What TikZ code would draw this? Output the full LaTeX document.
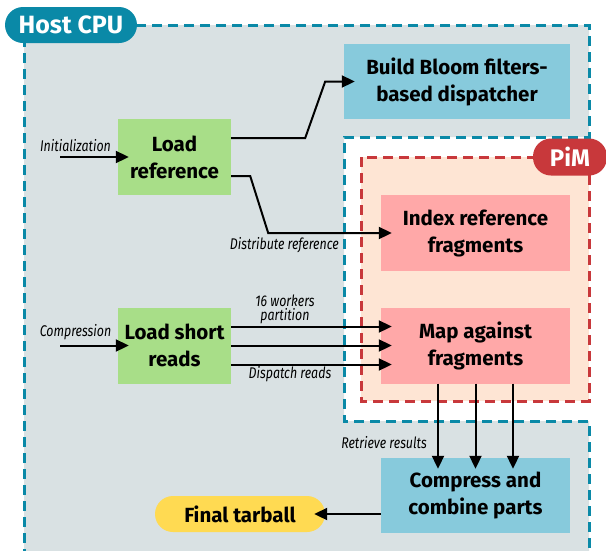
\documentclass[tikz,border=0pt]{standalone}
\usepackage{fontspec}
\setmainfont{Fira Sans}
\newfontfamily\labfont{Fira Sans}[FakeStretch=0.8]
\usetikzlibrary{arrows.meta,calc}
\definecolor{hostgray}{HTML}{D9E1E3}
\definecolor{teal}{HTML}{0A89A7}
\definecolor{pimred}{HTML}{C8383B}
\definecolor{peach}{HTML}{FEE5D4}
\definecolor{boxgreen}{HTML}{A8DE88}
\definecolor{boxblue}{HTML}{87CADC}
\definecolor{boxpink}{HTML}{FFA8A8}
\definecolor{boxyellow}{HTML}{FFDA52}
\tikzset{
  stepbox/.style={inner sep=0pt, align=center, font=\fontsize{20.5}{27}\selectfont\bfseries},
  arr/.style={line width=2pt, shorten >=-11pt, -{Triangle[length=13pt,width=12pt]}},
  lab/.style={font=\labfont\itshape\fontsize{15.5}{14}\selectfont, inner sep=0pt, align=center},
  tag/.style={rounded corners=18pt, text=white, font=\bfseries, inner sep=0pt},
  tealdash/.style={draw=teal, line width=3pt, dash pattern=on 10pt off 6pt},
  reddash/.style={draw=pimred, line width=3pt, dash pattern=on 10pt off 6pt}
}
\begin{document}
\begin{tikzpicture}[x=1pt,y=-1pt]
\clip (0,0) rectangle (606,550);
\fill[white] (0,0) rectangle (606,550);
% host region
\path[fill=hostgray, tealdash] (24,25) -- (589,25) -- (589,137) -- (344,137) -- (344,421) -- (589,421) -- (589,570) -- (24,570) -- cycle;
\fill[white] (345.5,138.5) rectangle (587.5,419.5);
% PiM region
\path[fill=peach, reddash] (361,157) rectangle (589,401);
% tags
\node[tag, fill=teal, minimum width=132pt, minimum height=36pt, font=\fontsize{25}{25}\selectfont\bfseries] (host) at (71,25) {Host CPU};
\node[tag, fill=pimred, minimum width=74pt, minimum height=37pt, font=\fontsize{24}{24}\selectfont\bfseries] (pim) at (570,157) {PiM};
% boxes
\node[stepbox, fill=boxgreen, minimum width=113pt, minimum height=76pt] (lr) at (174.5,157) {Load\\reference};
\node[stepbox, fill=boxblue, minimum width=226pt, minimum height=75pt] (bb) at (457,81.5) {Build Bloom filters-\\based dispatcher};
\node[stepbox, fill=boxpink, minimum width=189pt, minimum height=76pt] (ix) at (475.5,233) {Index reference\\fragments};
\node[stepbox, fill=boxpink, minimum width=189pt, minimum height=76pt] (mp) at (475.5,345.5) {Map against\\fragments};
\node[stepbox, fill=boxgreen, minimum width=113pt, minimum height=76pt] (ls) at (174.5,345.5) {Load short\\reads};
\node[stepbox, fill=boxblue, minimum width=189pt, minimum height=75pt] (cp) at (475.5,495.5) {Compress and\\combine parts};
\node[stepbox, fill=boxyellow, rounded corners=18pt, minimum width=170pt, minimum height=36pt] (ft) at (240,514) {Final tarball};
% inputs
\coordinate (inA) at (60,157);
\coordinate (inB) at (60,345.5);
\draw[arr] (inA) -- (lr.west);
\draw[arr] (inB) -- (ls.west);
\node[lab] (lInit) at (75.5,145.5) {Initialization};
\node[lab] (lComp) at (75.5,332) {Compression};
% load reference outputs
\draw[arr] ([yshift=19pt]lr.east) -- ++(74,0) -- ++(20,-56.5) -- (bb.west);
\draw[arr] ([yshift=-19pt]lr.east) -- ++(19,0) -- ++(18,57) -- (ix.west);
\node[lab, anchor=east] (lDist) at (339,245.5) {Distribute reference};
% reads dispatch
\draw[arr] ([yshift=19pt]ls.east) -- ([yshift=19pt]mp.west);
\draw[arr] (ls.east) -- (mp.west);
\draw[arr] ([yshift=-19pt]ls.east) -- ([yshift=-19pt]mp.west);
\node[lab] (lWork) at (285,309) {16 workers\\partition};
\node[lab] (lDisp) at (290,374) {Dispatch reads};
% results
\draw[arr] ([xshift=-37.5pt]mp.south) -- ([xshift=-37.5pt]cp.north);
\draw[arr] (mp.south) -- (cp.north);
\draw[arr] ([xshift=37.5pt]mp.south) -- ([xshift=37.5pt]cp.north);
\node[lab, anchor=east] (lRet) at (427,443) {Retrieve results};
\draw[arr] (cp.west |- ft.east) -- (ft.east);
\end{tikzpicture}
\end{document}
